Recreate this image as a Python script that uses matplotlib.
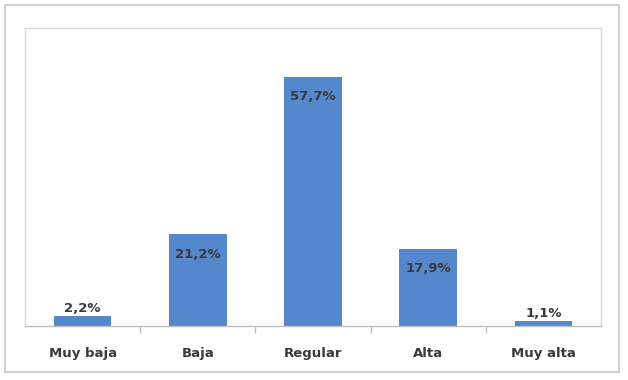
import matplotlib.pyplot as plt
from matplotlib.patches import Rectangle

categories = ['Muy baja', 'Baja', 'Regular', 'Alta', 'Muy alta']
values = [2.2, 21.2, 57.7, 17.9, 1.1]
labels = ['2,2%', '21,2%', '57,7%', '17,9%', '1,1%']

bar_color = '#5587CC'
text_color = '#3A3A3A'
plt.rcParams['font.family'] = ['DejaVu Sans']

fig = plt.figure(figsize=(6.28, 3.80), dpi=100)
W, H = 628, 380
ax = fig.add_axes([25 / W, (H - 326) / H, (601 - 25) / W, (326 - 28) / H])

x = range(len(categories))
ax.bar(x, values, width=0.5, color=bar_color)
ax.set_xlim(-0.5, len(categories) - 0.5)
ax.set_ylim(0, 69)

for i, v in enumerate(values):
    if v > 5:
        ax.text(i, v - 4.6, labels[i], ha='center', va='center', fontsize=9.5,
                fontweight='bold', color=text_color)
    else:
        ax.text(i, v + 0.3, labels[i], ha='center', va='bottom', fontsize=9.5,
                fontweight='bold', color=text_color)

# spines: light box around the plot area, grey baseline
for s in ['top', 'left', 'right']:
    ax.spines[s].set_color('#D9D9D9')
    ax.spines[s].set_linewidth(1)
ax.spines['bottom'].set_color('#BFBFBF')
ax.spines['bottom'].set_linewidth(1)

ax.set_yticks([])
ax.set_xticks(list(x))
ax.set_xticklabels(categories, fontsize=9.5, fontweight='bold', color=text_color)
ax.tick_params(axis='x', length=0, pad=15)
# tick marks between categories
ax.set_xticks([i + 0.5 for i in range(len(categories) - 1)], minor=True)
ax.tick_params(axis='x', which='minor', length=5, color='#BFBFBF', width=1)

# outer chart border
fig.patches.append(Rectangle((5 / W, 8 / H), (619 - 5) / W, (375 - 8) / H,
                             transform=fig.transFigure, fill=False,
                             edgecolor='#D0D0D0', linewidth=1.5))

fig.savefig('out.png', dpi=100)
